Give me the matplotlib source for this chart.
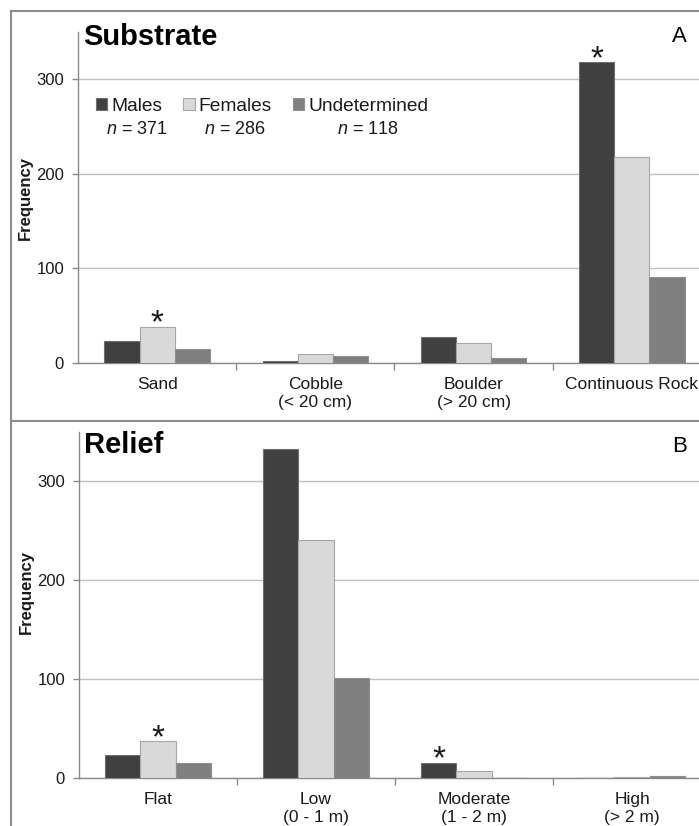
import matplotlib
matplotlib.use("Agg")
import matplotlib.pyplot as plt
import numpy as np
from matplotlib.lines import Line2D
from matplotlib.patches import Patch

plt.rcParams['font.family'] = ['Liberation Sans', 'DejaVu Sans']
plt.rcParams['mathtext.fontset'] = 'custom'
plt.rcParams['mathtext.it'] = 'Liberation Sans:italic'
plt.rcParams['mathtext.rm'] = 'Liberation Sans'

########## Data

groups = ["Males", "Females", "Undetermined"]
group_n = [371, 286, 118]

## Substrate counts per group
substrate_labels = ["Sand", "Cobble\n(< 20 cm)", "Boulder\n(> 20 cm)", "Continuous Rock"]
substrate_males = [23, 2, 28, 318]
substrate_females = [38, 9, 21, 218]
substrate_undet = [15, 7, 5, 91]
substrate_stars = [(0, 1), (3, 0)]  # (category, group) marked as significant

## Relief counts per group
relief_labels = ["Flat", "Low\n(0 - 1 m)", "Moderate\n(1 - 2 m)", "High\n(> 2 m)"]
relief_males = [23, 333, 15, 0]
relief_females = [37, 241, 7, 1]
relief_undet = [15, 101, 0, 2]
relief_stars = [(0, 1), (2, 0)]


########## Style

W, H = 699, 826
bar_colors = ["#404040", "#d9d9d9", "#7f7f7f"]
edge_colors = ["#6e6e6e", "#a6a6a6", "#8f8f8f"]
axis_gray = "#8a8a8a"
grid_gray = "#c0c0c0"
text_col = "#1a1a1a"
bar_w = 0.222


def px_box(left, top, right, bottom):
    # pixel box -> figure fraction [left, bottom, width, height]
    return [left / W, 1 - bottom / H, (right - left) / W, (bottom - top) / H]


def draw_panel(ax, labels, series, stars, title, title_y, ylabel_y):
    x = np.arange(len(labels))
    for k, vals in enumerate(series):
        ax.bar(x + (k - 1) * bar_w, vals, bar_w, color=bar_colors[k],
               edgecolor=edge_colors[k], linewidth=0.8, zorder=3)

    ## Significance marks
    for cat, grp in stars:
        ax.annotate("*", xy=(cat + (grp - 1) * bar_w, series[grp][cat]),
                    xytext=(0, -4), textcoords="offset points",
                    ha="center", va="baseline", fontsize=24, color=text_col)

    ax.set_xlim(-0.5, 3.5)
    ax.set_ylim(0, 350)
    ax.set_yticks([0, 100, 200, 300])
    ax.yaxis.grid(True, color=grid_gray, linewidth=1.0)
    ax.set_axisbelow(True)

    for s in ["top", "right"]:
        ax.spines[s].set_visible(False)
    for s in ["left", "bottom"]:
        ax.spines[s].set_color(axis_gray)
        ax.spines[s].set_linewidth(1.0)

    ax.set_xticks(x)
    ax.set_xticklabels(labels, fontsize=12.5, color=text_col, linespacing=1.3)
    ax.set_xticks([0.5, 1.5, 2.5], minor=True)
    ax.tick_params(axis="x", which="major", length=0, pad=10)
    ax.tick_params(axis="x", which="minor", length=5, width=1, color=axis_gray)
    ax.tick_params(axis="y", length=4, width=1, color=axis_gray, pad=6,
                   labelsize=12, labelcolor=text_col)

    ax.set_ylabel("Frequency", fontsize=12, fontweight="bold", color=text_col)
    ax.yaxis.set_label_coords(-0.072, ylabel_y)

    ax.text(0.008, title_y, title, transform=ax.transAxes, fontsize=21,
            fontweight="bold", va="baseline", color="black")


fig = plt.figure(figsize=(W / 100, H / 100), dpi=100)

ax1 = fig.add_axes(px_box(78, 32, 711, 363))
ax2 = fig.add_axes(px_box(79, 432, 711, 778))

draw_panel(ax1, substrate_labels, [substrate_males, substrate_females, substrate_undet],
           substrate_stars, "Substrate", 0.962, 0.497)
draw_panel(ax2, relief_labels, [relief_males, relief_females, relief_undet],
           relief_stars, "Relief", 0.939, 0.538)

## Panel letters
fig.text(687 / W, 1 - 42 / H, "A", ha="right", va="baseline", fontsize=16, color="black")
fig.text(687 / W, 1 - 452 / H, "B", ha="right", va="baseline", fontsize=16, color="black")

## Legend with sample sizes underneath
handles = [Patch(facecolor=c, edgecolor=e, linewidth=0.8) for c, e in zip(bar_colors, edge_colors)]
leg = ax1.legend(handles, groups, ncol=3, loc="center left", bbox_to_anchor=(0.028, 0.776),
                 frameon=False, fontsize=13.8, handlelength=0.6, handleheight=0.6,
                 handletextpad=0.2, columnspacing=1.1, borderpad=0, borderaxespad=0)
for t in leg.get_texts():
    t.set_color(text_col)

fig.canvas.draw()
renderer = fig.canvas.get_renderer()
for t, n in zip(leg.get_texts(), group_n):
    bb = t.get_window_extent(renderer)
    cx = (bb.x0 + bb.x1) / 2 / fig.bbox.width
    fig.text(cx, 1 - 129 / H, f"$n$ = {n}", ha="center", va="center", fontsize=13, color=text_col)

## Panel frames
frame_kw = dict(color="#8c8c8c", linewidth=1.5, transform=fig.transFigure)
fig.add_artist(Line2D([11 / W, 11 / W], [0, 1 - 11 / H], **frame_kw))
fig.add_artist(Line2D([11 / W, 1], [1 - 11 / H, 1 - 11 / H], **frame_kw))
fig.add_artist(Line2D([11 / W, 1], [1 - 420.5 / H, 1 - 420.5 / H], **frame_kw))

fig.savefig("out.png", dpi=100)
